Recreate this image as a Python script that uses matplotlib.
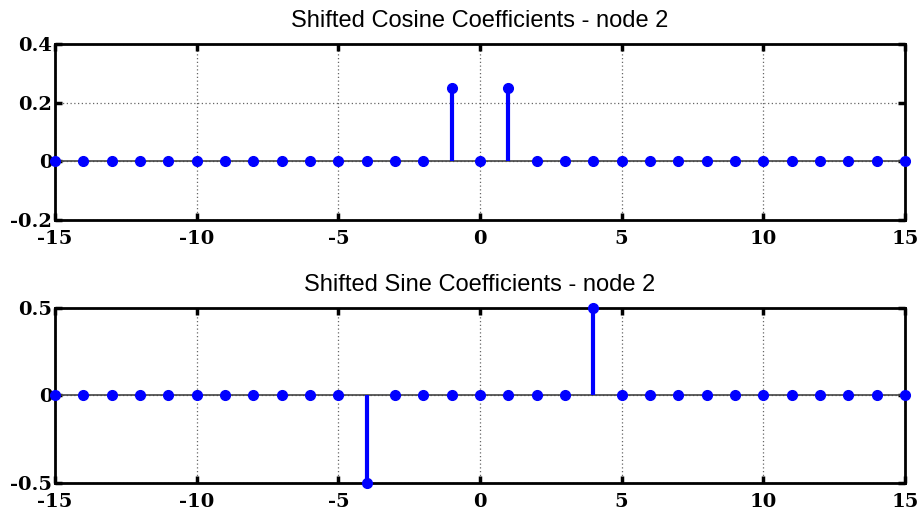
import numpy as np
import matplotlib
matplotlib.use("Agg")
import matplotlib.pyplot as plt

n = list(range(-15, 16))
cos_nonzero = {-1: 0.25, 1: 0.25}
sin_nonzero = {-4: -0.5, 4: 0.5}
cos_vals = [cos_nonzero.get(k, 0.0) for k in n]
sin_vals = [sin_nonzero.get(k, 0.0) for k in n]

titles = ["Shifted Cosine Coefficients - node 2", "Shifted Sine Coefficients - node 2"]
ylims = [(-0.2, 0.4), (-0.5, 0.5)]
yticks = [[-0.2, 0, 0.2, 0.4], [-0.5, 0, 0.5]]
yticklabels = [["-0.2", "0", "0.2", "0.4"], ["-0.5", "0", "0.5"]]
xticks = [-15, -10, -5, 0, 5, 10, 15]
xticklabels = ["-15", "-10", "-5", "0", "5", "10", "15"]

fig = plt.figure(figsize=(9.23, 5.13), dpi=100)
rects = [[0.0596, 0.5712, 0.9209, 0.343], [0.0596, 0.0585, 0.9209, 0.3411]]

for rect, vals, title, yl, yt, ytl in zip(rects, [cos_vals, sin_vals], titles, ylims, yticks, yticklabels):
    ax = fig.add_axes(rect)
    ax.plot([-15, 15], [0, 0], color="#444444", lw=1.2, zorder=2)
    ml, sl, bl = ax.stem(n, vals, basefmt=" ")
    plt.setp(sl, color="#0000ff", linewidth=3, zorder=3)
    plt.setp(ml, color="#0000ff", markersize=7, zorder=4, clip_on=False)
    ax.set_xlim(-15, 15)
    ax.set_ylim(*yl)
    ax.set_xticks(xticks)
    ax.set_xticklabels(xticklabels)
    ax.set_yticks(yt)
    ax.set_yticklabels(ytl)
    ax.grid(True, linestyle=(0, (1, 2)), color="#666666", linewidth=0.9)
    ax.set_axisbelow(True)
    for s in ax.spines.values():
        s.set_linewidth(2)
    ax.tick_params(direction="in", length=5, width=2.5, top=True, right=True)
    ax.tick_params(axis="y", pad=2)
    ax.tick_params(axis="x", pad=7)
    for lab in ax.get_xticklabels() + ax.get_yticklabels():
        lab.set_fontfamily("DejaVu Serif")
        lab.set_fontweight("bold")
        lab.set_fontsize(14)
    ax.set_title(title, fontsize=17, fontfamily="Liberation Sans", pad=12)

fig.savefig("out.png", dpi=100)
